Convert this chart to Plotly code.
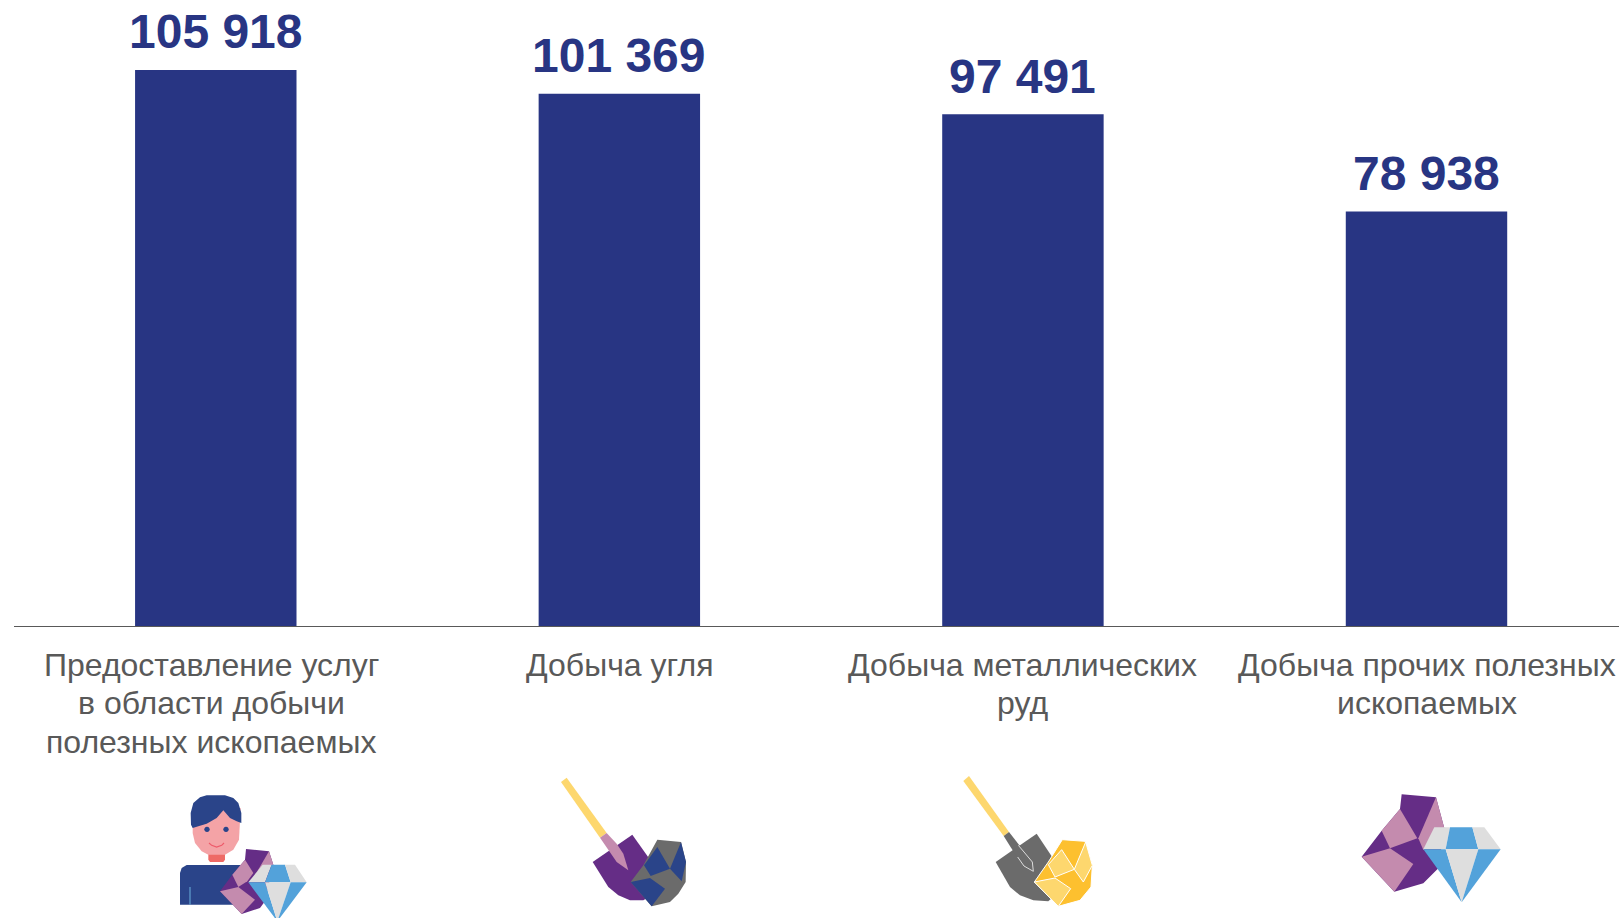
import math
import plotly.graph_objects as go

categories = [["Предоставление услуг", "в области добычи", "полезных ископаемых"],
              ["Добыча угля"],
              ["Добыча металлических", "руд"],
              ["Добыча прочих полезных", "ископаемых"]]
values = [105918, 101369, 97491, 78938]
value_labels = ["105 918", "101 369", "97 491", "78 938"]
positions = [0, 1, 2, 3]
label_positions = [-0.011, 1, 2, 3]

W, H = 1619, 918
L, R, T, B = 14, 0, 0, 292
BAR = "#283583"
NAVY = "#2a4489"
PURPLE = "#652d86"
MAUVE = "#c48bae"
GRAY = "#dedede"
BLUE = "#53a2da"
YELLOW = "#fdd76e"
DGRAY = "#6b6b6b"
ORANGE = "#fdc02f"
PINK = "#f4a3a6"
RED = "#ee6a66"
LINE_OFFSETS = [39, 76.5, 116]


def path(pts, origin, closed=True):
    ox, oy = origin
    out = []
    for i, (x, y) in enumerate(pts):
        px = ((ox + x / 3) - L) / (W - L - R)
        py = 1 - ((oy + y / 3) - T) / (H - T - B)
        out.append(f"{'M' if i == 0 else 'L'}{px:.5f},{py:.5f}")
    return " ".join(out) + (" Z" if closed else "")


def poly(pts, origin, color, line=None, lw=0):
    return dict(type="path", xref="paper", yref="paper", path=path(pts, origin),
                fillcolor=color, line=dict(color=line or color, width=lw if line else 0), layer="above")


def stroke(pts, origin, color, lw=1):
    return dict(type="path", xref="paper", yref="paper", path=path(pts, origin, closed=False),
                line=dict(color=color, width=lw), layer="above")


def dot(cx, cy, r, origin, color):
    pts = [(cx + r * math.cos(a / 12 * 2 * math.pi), cy + r * math.sin(a / 12 * 2 * math.pi)) for a in range(12)]
    return poly(pts, origin, color)


shapes = []
# person + gems
o = (170, 788)
shapes += [
    poly([(30, 350), (30, 255), (35, 240), (50, 231), (235, 231), (235, 350)], o, NAVY),
    stroke([(60, 297), (60, 350)], o, "#6bb0dc", 1),
    poly([(115, 195), (165, 195), (165, 215), (160, 222), (120, 222), (115, 215)], o, RED),
    poly([(68, 60), (68, 135), (75, 165), (95, 190), (115, 200), (165, 200), (190, 185), (207, 155), (212, 60)], o, PINK),
    poly([(63, 110), (62, 75), (70, 45), (90, 28), (110, 22), (165, 22), (190, 30), (205, 45), (214, 75), (214, 105),
          (200, 100), (180, 90), (160, 67), (140, 90), (110, 107), (85, 115), (68, 120)], o, NAVY),
    dot(111, 124, 8, o, NAVY),
    dot(168, 124, 8, o, NAVY),
    stroke([(117, 165), (125, 172), (140, 177), (155, 172), (162, 165)], o, "#ee5a6a", 1.2),
    poly([(228, 183), (297, 190), (310, 230), (285, 340), (270, 360), (215, 378), (150, 310), (187, 260), (225, 215)], o, PURPLE),
    poly([(297, 190), (310, 230), (262, 250)], o, MAUVE),
    poly([(225, 215), (250, 255), (232, 280), (205, 297), (187, 260)], o, MAUVE),
    poly([(150, 310), (205, 297), (255, 335), (215, 378)], o, MAUVE),
    poly([(278, 230), (305, 230), (285, 283), (235, 283)], o, GRAY),
    poly([(305, 230), (345, 230), (362, 283), (285, 283)], o, BLUE),
    poly([(345, 230), (375, 230), (410, 283), (362, 283)], o, GRAY),
    poly([(235, 283), (285, 283), (322, 400)], o, BLUE),
    poly([(285, 283), (362, 283), (322, 400)], o, GRAY),
    poly([(362, 283), (410, 283), (322, 400)], o, BLUE),
]
# coal shovel
o = (555, 772)
shapes += [
    poly([(18, 30), (35, 17), (155, 183), (135, 197)], o, YELLOW),
    poly([(113, 270), (232, 188), (290, 270), (290, 370), (265, 385), (225, 385), (190, 370), (160, 345)], o, PURPLE),
    poly([(135, 197), (155, 183), (185, 215), (205, 245), (220, 295), (185, 270)], o, MAUVE),
    poly([(307, 203), (378, 210), (393, 270), (392, 330), (370, 365), (345, 390), (290, 403), (227, 330), (265, 280)], o, DGRAY),
    poly([(307, 225), (345, 290), (287, 312), (267, 280)], o, NAVY),
    poly([(378, 210), (393, 270), (380, 328), (345, 290)], o, NAVY),
    poly([(227, 330), (285, 318), (330, 350), (290, 403)], o, NAVY),
]
# ore shovel
o = (955, 772)
W_LINE = "#ffffff"
shapes += [
    poly([(25, 27), (42, 12), (162, 180), (146, 192)], o, YELLOW),
    poly([(122, 270), (245, 185), (298, 265), (300, 370), (280, 388), (235, 385), (195, 370), (165, 345)], o, DGRAY),
    poly([(146, 192), (162, 180), (205, 235), (232, 270), (235, 298), (200, 278)], o, DGRAY),
    stroke([(190, 220), (207, 240), (232, 270), (235, 298), (207, 282), (188, 255)], o, "#dcdcdc", 1),
    poly([(322, 203), (390, 208), (412, 280), (408, 345), (375, 385), (310, 403), (238, 330), (280, 270)], o, ORANGE, W_LINE, 1),
    poly([(320, 233), (358, 292), (300, 315), (280, 278)], o, YELLOW, W_LINE, 1),
    poly([(392, 210), (412, 280), (385, 330), (358, 292)], o, YELLOW, W_LINE, 1),
    poly([(238, 330), (300, 318), (347, 350), (310, 403)], o, YELLOW, W_LINE, 1),
]
# gems
o = (1355, 785)
shapes += [
    poly([(140, 28), (243, 37), (268, 130), (250, 250), (205, 295), (118, 320), (20, 215), (80, 137), (135, 72)], o, PURPLE),
    poly([(135, 72), (187, 160), (105, 190), (80, 137)], o, MAUVE),
    poly([(243, 37), (268, 130), (205, 195), (190, 160)], o, MAUVE),
    poly([(20, 215), (105, 190), (175, 237), (118, 320)], o, MAUVE),
    poly([(238, 127), (285, 127), (272, 193), (205, 193)], o, GRAY),
    poly([(285, 127), (352, 127), (370, 193), (272, 193)], o, BLUE),
    poly([(352, 127), (388, 127), (437, 193), (370, 193)], o, GRAY),
    poly([(205, 193), (272, 193), (320, 352)], o, BLUE),
    poly([(272, 193), (370, 193), (320, 352)], o, GRAY),
    poly([(370, 193), (437, 193), (320, 352)], o, BLUE),
]

annotations = []
for p, v, t in zip(positions, values, value_labels):
    annotations.append(dict(x=p, y=v, xref="x", yref="y", text=t, showarrow=False, yanchor="middle", yshift=38,
                            font=dict(family="Liberation Sans", size=48, color=BAR, weight="bold")))
for p, lines in zip(label_positions, categories):
    for i, line in enumerate(lines):
        annotations.append(dict(x=p, y=0, xref="x", yref="paper", text=line, showarrow=False, yanchor="middle",
                                yshift=-LINE_OFFSETS[i],
                                font=dict(family="Liberation Sans", size=32, color="#595959")))

fig = go.Figure(go.Bar(
    x=positions, y=values, width=0.4, marker=dict(color=BAR, line=dict(width=0)), hoverinfo="skip",
))
fig.update_layout(
    width=W, height=H, margin=dict(l=L, r=R, t=T, b=B, pad=0, autoexpand=False),
    paper_bgcolor="white", plot_bgcolor="white", showlegend=False, shapes=shapes, annotations=annotations,
    font=dict(family="Liberation Sans"),
    xaxis=dict(range=[-0.5, 3.477], showticklabels=False, showgrid=False, zeroline=False,
               showline=True, linecolor="#595959", linewidth=1, ticks=""),
    yaxis=dict(range=[0, 119250], visible=False, fixedrange=True),
)
fig.write_html("out.html", config={"displayModeBar": False},
               post_script="document.body.style.margin='0';document.body.style.overflow='hidden';")
